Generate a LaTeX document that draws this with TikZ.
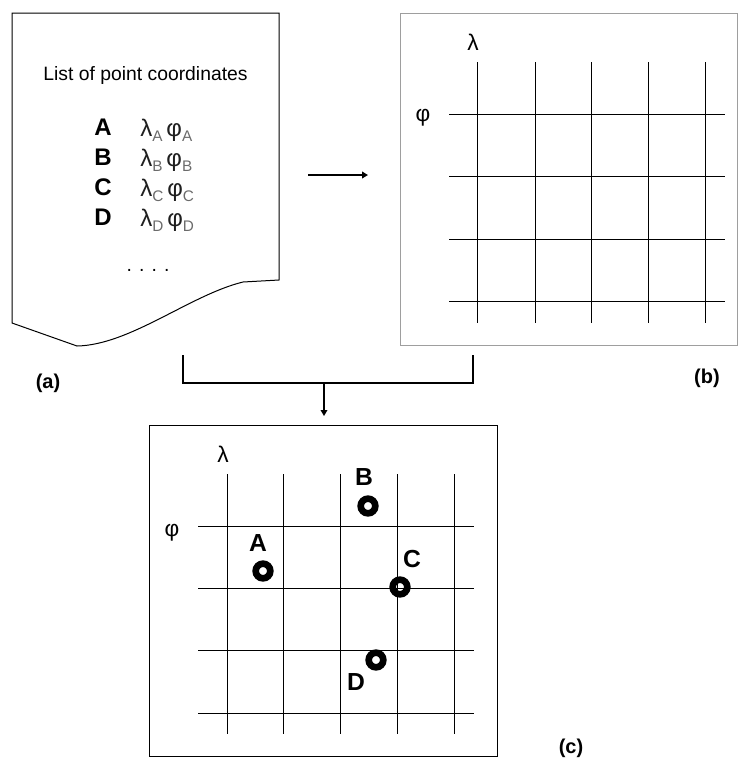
\documentclass[tikz,border=0pt]{standalone}
\usepackage{fontspec}
\setmainfont{Liberation Sans}
\usepackage{xcolor}
\usetikzlibrary{arrows.meta}

\definecolor{boxgray}{gray}{0.62}
\definecolor{subgray}{gray}{0.42}
\definecolor{lamgray}{gray}{0.12}

\newcommand{\lamphi}[1]{λ\raisebox{-4pt}{\fontsize{11.5}{13}\selectfont\color{subgray}#1}\,φ\raisebox{-4pt}{\fontsize{11.5}{13}\selectfont\color{subgray}#1}}

\tikzset{
    title/.style={font=\fontsize{14.5}{16}\selectfont, inner sep=0pt},
    bigletter/.style={font=\bfseries\fontsize{18}{20}\selectfont, inner sep=0pt},
    ptletter/.style={font=\bfseries\fontsize{18.5}{20}\selectfont, inner sep=0pt},
    coordtext/.style={font=\fontsize{18}{20}\selectfont, text=lamgray, inner sep=0pt},
    glabel/.style={font=\fontsize{17}{19}\selectfont, inner sep=0pt},
    panel/.style={font=\bfseries\fontsize{15}{17}\selectfont, inner sep=0pt},
    ring/.style={circle, draw, line width=5pt, minimum size=11pt, inner sep=0pt},
    gridline/.style={line width=0.75pt},
    bracket/.style={line width=1.5pt},
}

\begin{document}
\begin{tikzpicture}[x=0.75pt,y=-0.75pt]
        \useasboundingbox (0,0) rectangle (738,758);

        \draw[line width=0.75pt] (12,13) -- (279,13) -- (279,280) -- (243,282)
            .. controls (190,295) and (130,345) .. (77,346) -- (12,323) -- cycle;

        \node[title, anchor=base] (ttl) at (145.5,80.5) {List of point coordinates};
        \node[bigletter, anchor=base] (nA) at (103,135) {A};
        \node[bigletter, anchor=base] (nB) at (103,165) {B};
        \node[bigletter, anchor=base] (nC) at (103,195) {C};
        \node[bigletter, anchor=base] (nD) at (103,225) {D};
        \node[coordtext, anchor=base west] (cA) at (140,136) {\lamphi{A}};
        \node[coordtext, anchor=base west] (cB) at (140,166) {\lamphi{B}};
        \node[coordtext, anchor=base west] (cC) at (140,196) {\lamphi{C}};
        \node[coordtext, anchor=base west] (cD) at (140,226) {\lamphi{D}};
        \node[title, anchor=base] (dots) at (148,271) {. . . .};

        \coordinate (ar1) at (308,175);
        \coordinate (ar2) at (368,175);
        \draw[bracket, -{Triangle[length=4.5pt,width=5pt]}] (ar1) -- (ar2);

        \draw[boxgray, line width=0.75pt] (400,13) rectangle (737,345);
        \draw[gridline] (477,62) -- (477,323);
        \draw[gridline] (535,62) -- (535,323);
        \draw[gridline] (591,62) -- (591,323);
        \draw[gridline] (648,62) -- (648,323);
        \draw[gridline] (705,62) -- (705,323);
        \draw[gridline] (449,114) -- (725,114);
        \draw[gridline] (449,176) -- (725,176);
        \draw[gridline] (449,239) -- (725,239);
        \draw[gridline] (449,301) -- (725,301);
        \node[glabel] (lamb) at (473,42) {λ};
        \node[glabel] (phib) at (423,118) {φ};

        \coordinate (br1) at (183,355);
        \coordinate (br2) at (183,383);
        \coordinate (br3) at (473,383);
        \coordinate (br4) at (473,355);
        \coordinate (st1) at (324,383);
        \coordinate (st2) at (324,416);
        \draw[bracket] (br1) -- (br2) -- (br3) -- (br4);
        \draw[line width=1pt, -{Triangle[length=4.5pt,width=5pt]}] (st1) -- (st2);

        \draw[line width=0.75pt] (149,425) rectangle (497.5,756.5);
        \draw[gridline] (227,474) -- (227,734);
        \draw[gridline] (283,474) -- (283,734);
        \draw[gridline] (340,474) -- (340,734);
        \draw[gridline] (397,474) -- (397,734);
        \draw[gridline] (454,474) -- (454,734);
        \draw[gridline] (198,526) -- (474,526);
        \draw[gridline] (198,588) -- (474,588);
        \draw[gridline] (198,650) -- (474,650);
        \draw[gridline] (198,713) -- (474,713);
        \node[glabel] (lamc) at (223,454) {λ};
        \node[glabel] (phic) at (172,533) {φ};

        \node[ring] (pA) at (263,571) {};
        \node[ring] (pB) at (368,506) {};
        \node[ring] (pC) at (400,587) {};
        \node[ring] (pD) at (376,660) {};
        \node[ptletter] (lA) at (258,543) {A};
        \node[ptletter] (lB) at (364,477) {B};
        \node[ptletter] (lC) at (412,559) {C};
        \node[ptletter] (lD) at (356,682) {D};

        \node[panel] (pa) at (48,383) {(a)};
        \node[panel] (pb) at (707,378) {(b)};
        \node[panel] (pc) at (571,748) {(c)};
    \end{tikzpicture}
\end{document}
